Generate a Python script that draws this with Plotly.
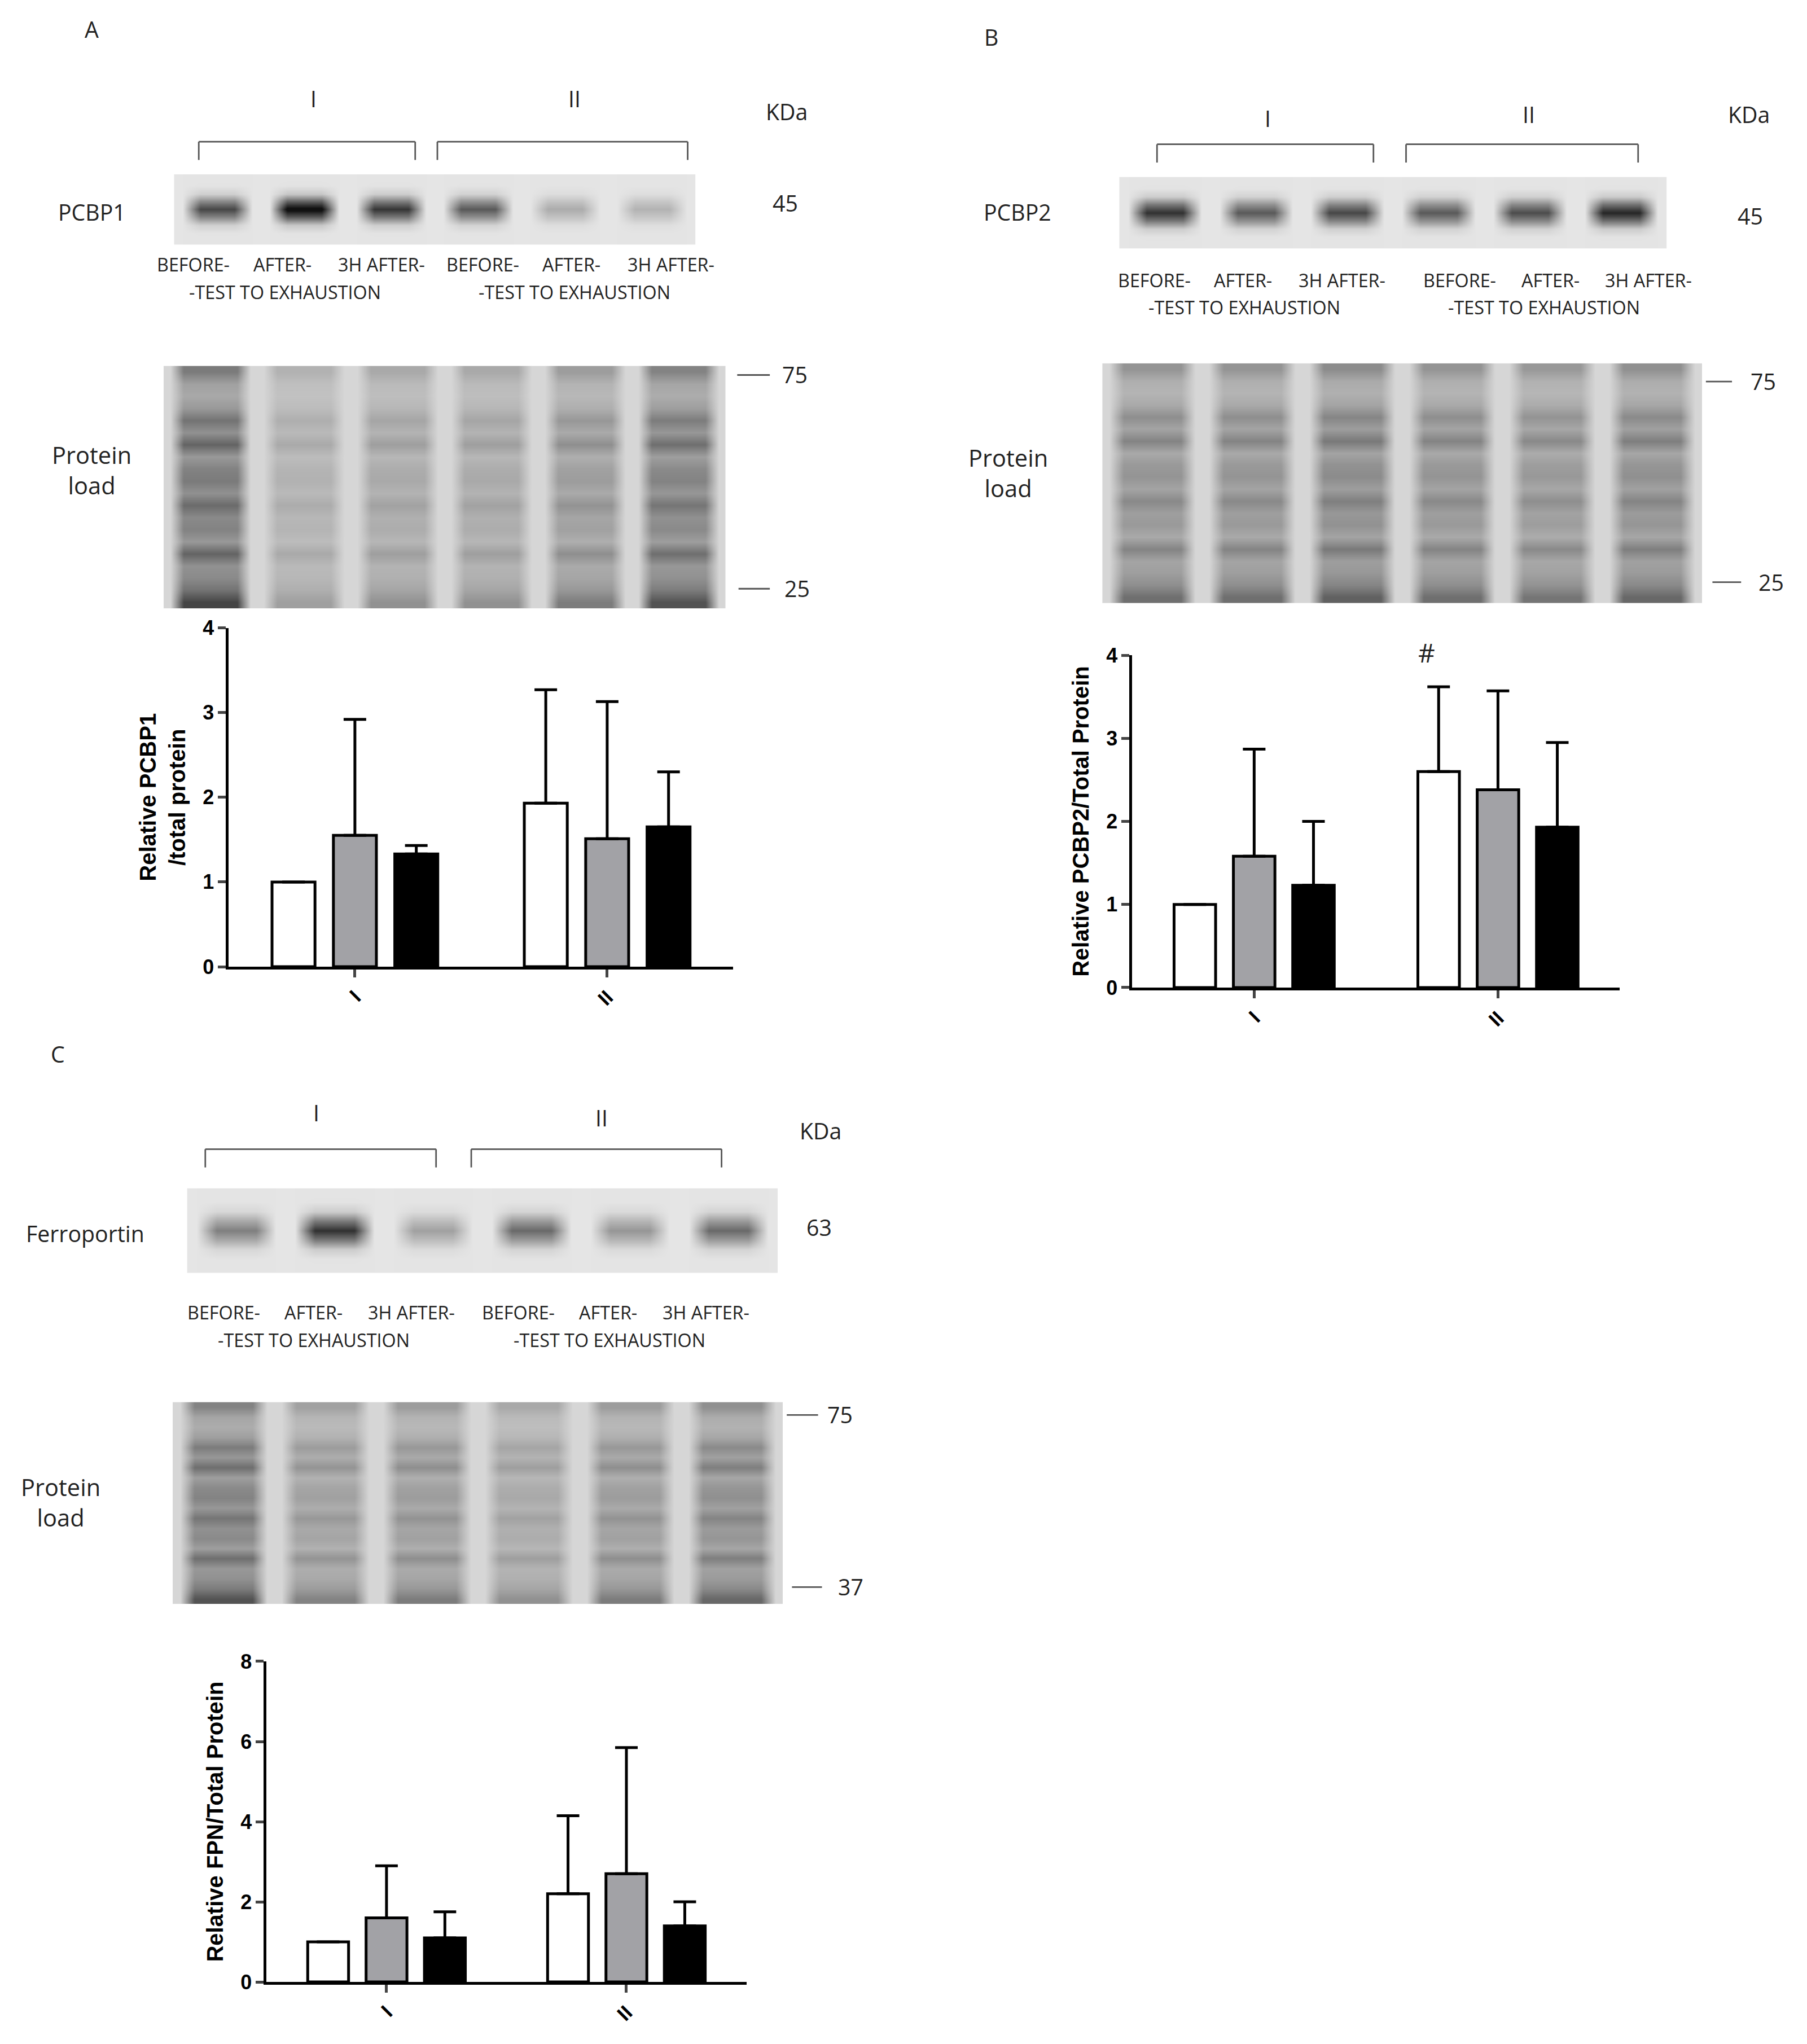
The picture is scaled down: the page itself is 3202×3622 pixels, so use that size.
import numpy as np
import plotly.graph_objects as go

W, H = 3202, 3622
S = W / 1386.0          # reference drawn at 1386 px wide
PH = H / S              # page height in reference px

# ── data ──────────────────────────────────────────────────────────────────────
groups = ["I", "II"]
series = ["BEFORE", "AFTER", "3H AFTER"]
fills = ["white", "#a2a2a6", "black"]

pcbp1_mean = [[1.00, 1.55, 1.33], [1.93, 1.51, 1.65]]   # [group][series]
pcbp1_top = [[1.00, 2.92, 1.43], [3.27, 3.13, 2.30]]
pcbp2_mean = [[1.00, 1.58, 1.23], [2.60, 2.38, 1.93]]
pcbp2_top = [[1.00, 2.87, 2.00], [3.62, 3.57, 2.95]]
fpn_mean = [[1.00, 1.60, 1.10], [2.20, 2.70, 1.40]]
fpn_top = [[1.00, 2.90, 1.75], [4.15, 5.85, 2.00]]

# blot band intensity per lane (0..1)
pcbp1_band = [0.70, 1.00, 0.78, 0.62, 0.25, 0.22]
pcbp2_band = [0.80, 0.62, 0.70, 0.62, 0.68, 0.85]
fpn_band = [0.45, 0.80, 0.30, 0.55, 0.35, 0.55]
# total-protein lanes: overall strength per lane, band profile top->bottom
load_a_lane = [1.00, 0.35, 0.45, 0.45, 0.60, 0.90]
load_b_lane = [0.70, 0.70, 0.80, 0.70, 0.65, 0.75]
load_c_lane = [0.90, 0.55, 0.60, 0.45, 0.60, 0.75]
load_profile = [0.55, 0.3, 0.25, 0.35, 0.6, 0.4, 0.7, 0.35, 0.5, 0.55, 0.4, 0.65,
                0.45, 0.5, 0.35, 0.7, 0.4, 0.45, 0.6, 0.9]

FONT = "Liberation Sans Narrow, Open Sans"
fig = go.Figure()
ax_n = [0]


def px(x):
    return (x - 3) / 1386.0


def py(y):
    return 1 - ((y - 11.4) / 0.989) / PH


def dom(x0, x1, y0, y1):
    return [px(x0), px(x1)], [py(y1), py(y0)]


def new_axes(box):
    ax_n[0] += 1
    n = ax_n[0]
    xd, yd = dom(*box)
    hide = dict(visible=False, fixedrange=True)
    fig.update_layout(**{f"xaxis{n}": dict(domain=xd, anchor=f"y{n}", **hide),
                         f"yaxis{n}": dict(domain=yd, anchor=f"x{n}", **hide)})
    return f"x{n}", f"y{n}"


def blot(box, band):
    xa, ya = new_axes(box)
    z = []
    for r in range(9):
        prof = np.exp(-((r - 4) / 1.4) ** 2)
        row = []
        for b in band:
            row += [0.06, 0.06 + b * prof, 0.06 + b * prof, 0.06 + b * prof, 0.06]
        z.append(row)
    fig.add_trace(go.Heatmap(z=z, xaxis=xa, yaxis=ya, colorscale=[[0, "#f2f2f2"], [1, "#111111"]],
                             zmin=0, zmax=1, showscale=False, zsmooth="best", hoverinfo="skip"))


def load(box, lanes):
    xa, ya = new_axes(box)
    z = []
    for p in load_profile:
        row = []
        for l in lanes:
            v = 0.15 + 0.7 * p * l
            row += [0.12, v, v, v, v, v, 0.12]
        z.append(row)
    fig.add_trace(go.Heatmap(z=z[::-1], xaxis=xa, yaxis=ya, colorscale=[[0, "#f0f0f0"], [1, "#151515"]],
                             zmin=0, zmax=1, showscale=False, zsmooth="best", hoverinfo="skip"))


def bars(box, means, tops, yrange, dtick, title):
    ax_n[0] += 1
    n = ax_n[0]
    xd, yd = dom(*box)
    for s in range(3):
        m = [means[g][s] for g in range(2)]
        e = [tops[g][s] - means[g][s] for g in range(2)]
        fig.add_trace(go.Bar(x=groups, y=m, marker=dict(color=fills[s], line=dict(color="black", width=5)),
                             error_y=dict(type="data", array=e, arrayminus=[0, 0], symmetric=False,
                                          color="black", thickness=5, width=20),
                             xaxis=f"x{n}", yaxis=f"y{n}", showlegend=False, name=series[s]))
    tf = dict(family="Liberation Sans", size=36, color="black", weight="bold")
    fig.update_layout(**{
        f"xaxis{n}": dict(domain=xd, anchor=f"y{n}", range=[-0.5, 1.5], showline=True, linewidth=5,
                          linecolor="black", ticks="outside", ticklen=14, tickwidth=5, tickangle=-45,
                          tickfont=tf, showgrid=False, fixedrange=True),
        f"yaxis{n}": dict(domain=yd, anchor=f"x{n}", range=yrange, dtick=dtick, showline=True, linewidth=5,
                          linecolor="black", ticks="outside", ticklen=14, tickwidth=5, tickfont=tf,
                          showgrid=False, zeroline=False, fixedrange=True,
                          title=dict(text=title, font=dict(family="Liberation Sans", size=40,
                                                           color="black", weight="bold"), standoff=20)),
    })


# ── panels ────────────────────────────────────────────────────────────────────
blot((133, 533, 133, 187), pcbp1_band)
load((125, 556, 280, 466), load_a_lane)
blot((858, 1278, 135, 190), pcbp2_band)
load((845, 1305, 278, 462), load_b_lane)
blot((143, 596, 911, 976), fpn_band)
load((132, 600, 1075, 1230), load_c_lane)

bars((175, 562, 481, 741), pcbp1_mean, pcbp1_top, [0, 4], 1, "Relative PCBP1<br>/total protein")
bars((868, 1242, 502, 757), pcbp2_mean, pcbp2_top, [0, 4], 1, "Relative PCBP2/Total Protein")
bars((204, 572, 1274, 1520), fpn_mean, fpn_top, [0, 8], 2, "Relative FPN/Total Protein")

# ── annotations & shapes ──────────────────────────────────────────────────────
ann = []
shapes = []


def txt(x, y, t, size=16):
    ann.append(dict(x=px(x), y=py(y), xref="paper", yref="paper", text=t, showarrow=False,
                    xanchor="center", yanchor="middle",
                    font=dict(family=FONT, size=size * S, color="#222")))


def line(x0, y0, x1, y1, w=1.2):
    shapes.append(dict(type="line", xref="paper", yref="paper", x0=px(x0), x1=px(x1),
                       y0=py(y0), y1=py(y1), line=dict(color="#555", width=w * S)))


def bracket(x0, x1, y0, y1):
    line(x0, y1, x0, y0)
    line(x0, y0, x1, y0)
    line(x1, y0, x1, y1)


def lanes(xs, y, groups_x):
    for i, x in enumerate(xs):
        txt(x, y, ["BEFORE-", "AFTER-", "3H AFTER-"][i % 3], 14)
    for gx in groups_x:
        txt(gx, y + 21, "-TEST TO EXHAUSTION", 14)


txt(70, 22, "A", 17)
txt(760, 28, "B", 17)
txt(44, 808, "C", 17)

# A
bracket(152, 318, 108, 122)
bracket(335, 527, 108, 122)
txt(240, 75, "I", 17)
txt(440, 75, "II", 17)
txt(603, 85, "KDa", 17)
txt(602, 155, "45", 17)
txt(70, 162, "PCBP1", 17)
lanes([148, 216, 292, 370, 438, 514], 202, [218, 440])
txt(70, 360, "Protein<br>load", 18)
line(565, 287, 590, 287)
txt(609, 287, "75", 17)
line(566, 451, 590, 451)
txt(611, 451, "25", 17)

# B
bracket(887, 1053, 110, 124)
bracket(1078, 1256, 110, 124)
txt(972, 90, "I", 17)
txt(1172, 87, "II", 17)
txt(1341, 87, "KDa", 17)
txt(1342, 165, "45", 17)
txt(780, 162, "PCBP2", 17)
lanes([885, 953, 1029, 1119, 1189, 1264], 214, [954, 1184])
txt(773, 362, "Protein<br>load", 18)
line(1308, 292, 1328, 292)
txt(1352, 292, "75", 17)
line(1313, 446, 1335, 446)
txt(1358, 446, "25", 17)
txt(1094, 500, "#", 20)

# C
bracket(157, 334, 881, 895)
bracket(361, 553, 881, 895)
txt(242, 853, "I", 17)
txt(461, 857, "II", 17)
txt(629, 867, "KDa", 17)
txt(628, 941, "63", 17)
txt(65, 946, "Ferroportin", 17)
lanes([171, 240, 315, 397, 466, 541], 1006, [240, 467])
txt(46, 1152, "Protein<br>load", 18)
line(603, 1085, 627, 1085)
txt(644, 1085, "75", 17)
line(607, 1217, 630, 1217)
txt(652, 1217, "37", 17)

fig.update_layout(width=W, height=H, margin=dict(l=0, r=0, t=0, b=0), paper_bgcolor="white",
                  plot_bgcolor="white", barmode="group", bargap=0.27, bargroupgap=0.3,
                  annotations=ann, shapes=shapes, showlegend=False)

fig.write_html("out.html")
